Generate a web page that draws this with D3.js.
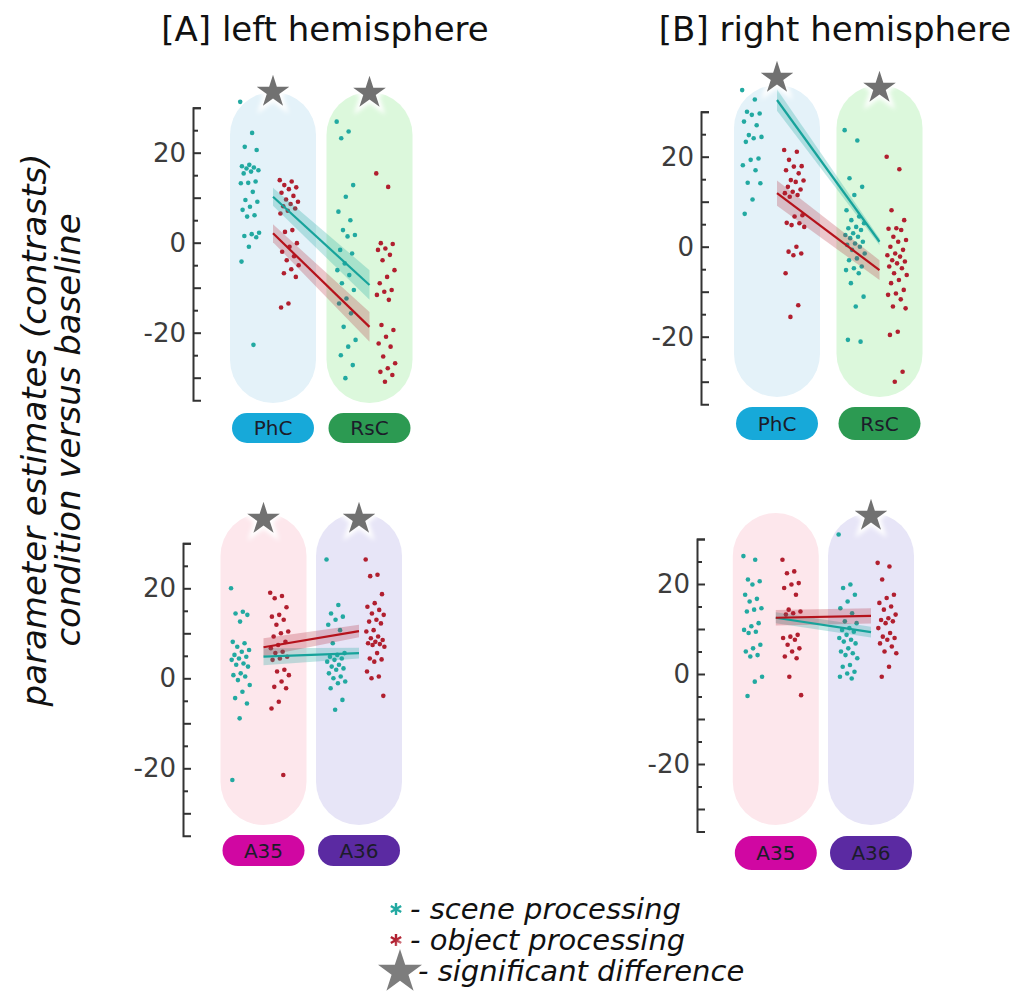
<!DOCTYPE html>
<html>
<head>
<meta charset="utf-8">
<script src="https://cdn.jsdelivr.net/npm/d3@7"></script>
<style>
  body { margin: 0; background: #fff; }
  text { font-family: "DejaVu Sans", Verdana, sans-serif; }
</style>
</head>
<body>
<div id="container"></div>
<script>
// regions per row
const topRegions = ["PhC", "RsC"]
const bottomRegions = ["A35", "A36"]

// [A] left hemisphere, top row
const leftPhCScene = [31.3, 24.4, 21.3, 20.6, 17.3, 17.0, 16.7, 16.5, 16.1, 15.8, 15.4, 13.6, 13.3, 13.2, 11.3, 9.5, 9.1, 8.0, 7.3, 6.1, 5.8, 2.2, 1.9, 1.5, 1.2, -0.9, -4.2, -22.7]
const leftPhCObject = [13.9, 13.6, 12.8, 12.3, 11.9, 11.1, 10.4, 9.6, 9.1, 8.6, 8.1, 7.6, 7.1, 6.5, 2.8, 2.4, -0.1, -0.9, -2.0, -3.0, -3.9, -5.0, -5.9, -6.8, -7.6, -13.5, -14.4]
const leftRsCScene = [26.9, 24.7, 23.2, 12.8, 10.2, 6.9, 5.0, 2.8, 1.7, 1.4, -1.6, -2.4, -4.6, -6.1, -7.2, -9.0, -10.5, -12.4, -13.5, -15.7, -18.7, -21.6, -23.1, -25.0, -27.2, -30.1]
const leftRsCObject = [15.4, 12.4, -0.1, -0.3, -1.3, -1.6, -2.7, -3.9, -6.1, -7.6, -9.0, -10.5, -10.9, -11.6, -12.7, -18.3, -19.4, -20.9, -22.4, -23.1, -25.3, -26.8, -27.9, -28.7, -29.4, -30.9]

// [B] right hemisphere, top row
const rightPhCScene = [34.8, 32.7, 30.0, 29.6, 29.3, 27.8, 27.0, 24.8, 24.4, 24.1, 23.3, 19.6, 19.3, 18.1, 17.0, 14.2, 14.1, 10.5, 7.3]
const rightPhCObject = [21.5, 21.1, 19.3, 17.9, 17.8, 17.0, 16.3, 14.8, 14.7, 14.4, 13.3, 12.7, 12.2, 11.9, 11.5, 11.1, 7.0, 6.7, 5.3, 5.2, 4.8, 4.4, 0.0, -1.1, -1.5, -1.9, -5.9, -13.0, -15.6]
const rightRsCScene = [25.9, 23.6, 15.2, 13.3, 11.5, 8.1, 6.7, 5.9, 5.2, 4.4, 4.1, 3.7, 3.0, 2.6, 2.2, 1.9, 1.1, 0.7, 0.4, 0.0, -0.7, -1.5, -2.6, -3.0, -4.4, -4.8, -5.2, -5.9, -8.1, -11.1, -13.3, -20.7, -21.1]
const rightRsCObject = [20.0, 17.2, 8.1, 5.9, 4.1, 4.0, 3.7, 2.2, 1.5, 1.1, 0.0, -0.7, -1.5, -1.9, -2.2, -3.0, -3.3, -3.7, -4.4, -4.8, -5.9, -6.3, -7.4, -8.1, -9.6, -10.4, -10.7, -11.7, -13.3, -13.7, -18.9, -19.6, -27.8, -30.0]

// [A] left hemisphere, bottom row
const leftA35Scene = [20.0, 14.8, 14.4, 14.1, 12.6, 8.1, 7.8, 7.0, 6.3, 5.9, 5.2, 4.8, 4.4, 4.1, 3.3, 3.0, 2.6, 1.1, 0.7, 0.4, -0.4, -1.5, -3.0, -4.4, -5.6, -8.9, -22.6]
const leftA35Object = [19.0, 18.3, 17.8, 15.8, 14.1, 13.7, 13.0, 11.9, 10.4, 10.0, 9.3, 8.1, 7.4, 6.7, 5.9, 5.6, 4.8, 4.4, 4.1, 1.9, 1.5, 0.7, -0.7, -1.9, -2.2, -5.2, -6.7, -21.5]
const leftA36Scene = [26.4, 16.3, 14.4, 13.7, 13.0, 11.9, 10.7, 7.8, 5.6, 5.2, 4.8, 4.4, 4.1, 3.7, 3.0, 2.6, 2.2, 1.9, 1.1, 0.4, 0.0, -0.7, -1.1, -2.2, -4.8, -7.0]
const leftA36Object = [26.4, 23.0, 22.7, 18.7, 16.7, 15.9, 15.2, 14.4, 14.1, 13.0, 12.6, 12.2, 10.7, 10.4, 9.3, 8.9, 8.5, 8.1, 7.8, 7.6, 7.4, 7.0, 5.6, 4.4, 4.2, 3.7, 1.5, 0.4, 0.0, -3.9]

// [B] right hemisphere, bottom row
const rightA35Scene = [26.2, 25.4, 21.0, 20.6, 19.9, 17.6, 16.7, 16.1, 14.6, 14.3, 13.9, 11.3, 10.6, 9.8, 9.4, 9.1, 6.5, 5.7, 5.0, 4.2, 3.9, -0.6, -1.7, -4.9]
const rightA35Object = [25.4, 22.8, 22.4, 20.2, 19.9, 19.1, 17.6, 14.3, 13.9, 13.5, 13.2, 8.7, 8.3, 8.0, 7.6, 6.5, 5.7, 5.0, 3.9, 3.5, -0.6, -4.7]
const rightA36Scene = [31.0, 19.9, 19.1, 17.6, 16.1, 14.6, 13.5, 11.7, 11.3, 10.2, 9.8, 9.4, 8.7, 8.0, 7.6, 7.2, 6.8, 5.7, 5.0, 4.6, 4.2, 3.5, 2.0, 1.6, 0.5, 0.1, -0.6, -1.0]
const rightA36Object = [24.7, 23.9, 21.0, 17.6, 16.9, 15.8, 15.0, 14.3, 13.2, 12.4, 12.0, 11.7, 11.3, 10.2, 9.1, 8.3, 8.0, 7.6, 6.8, 6.1, 5.0, 4.6, 1.6, -0.6]

// regression fits: value at first region, value at second region; ci half width at each end
const leftTopSceneFit = [10.2, -9.4], leftTopSceneCI = [2.0, 3.3]
const leftTopObjectFit = [2.1, -18.7], leftTopObjectCI = [2.0, 3.3]
const rightTopSceneFit = [32.6, 1.1], rightTopSceneCI = [2.4, 0.8]
const rightTopObjectFit = [11.9, -5.2], rightTopObjectCI = [2.8, 2.2]
const leftBottomSceneFit = [4.8, 5.6], leftBottomSceneCI = [1.9, 1.2]
const leftBottomObjectFit = [6.9, 10.5], leftBottomObjectCI = [2.0, 1.4]
const rightBottomSceneFit = [12.5, 9.3], rightBottomSceneCI = [1.2, 1.2]
const rightBottomObjectFit = [12.5, 12.9], rightBottomObjectCI = [1.7, 1.7]

// significance stars per region
const leftTopStars = [true, true]
const rightTopStars = [true, true]
const leftBottomStars = [true, true]
const rightBottomStars = [false, true]

const w = 1026
const h = 994

const sceneColor = "#22a9a1"
const objectColor = "#b11f2f"
const regionBg = { PhC: "#e4f2f9", RsC: "#dcf8dc", A35: "#fde7ec", A36: "#e7e5f7" }
const regionPill = { PhC: "#17a9d9", RsC: "#2c9a52", A35: "#d007a2", A36: "#5b2aa2" }

const svg = d3.select("#container")
  .append("svg")
  .attr("width", w)
  .attr("height", h)

const defs = svg.append("defs")
const glow = defs.append("filter").attr("id", "glow")
  .attr("x", "-50%").attr("y", "-50%").attr("width", "200%").attr("height", "200%")
glow.append("feGaussianBlur").attr("stdDeviation", 2)

const panels = [
  {
    regions: topRegions, c0: 273, c1: 369.5, rectTop: 92, rectBot: 403, zeroY: 242.7, axisX: 193,
    labelTop: 413, labelH: 30, starY: [92, 93], stars: leftTopStars,
    points: [[leftPhCScene, leftPhCObject], [leftRsCScene, leftRsCObject]],
    fits: [[leftTopSceneFit, leftTopSceneCI, sceneColor], [leftTopObjectFit, leftTopObjectCI, objectColor]]
  },
  {
    regions: topRegions, c0: 777, c1: 879.5, rectTop: 85, rectBot: 397, zeroY: 246.7, axisX: 701,
    labelTop: 407, labelH: 33, starY: [78, 88], stars: rightTopStars,
    points: [[rightPhCScene, rightPhCObject], [rightRsCScene, rightRsCObject]],
    fits: [[rightTopSceneFit, rightTopSceneCI, sceneColor], [rightTopObjectFit, rightTopObjectCI, objectColor]]
  },
  {
    regions: bottomRegions, c0: 263.5, c1: 359, rectTop: 513, rectBot: 825, zeroY: 678.3, axisX: 183,
    labelTop: 835, labelH: 31, starY: [519, 519], stars: leftBottomStars,
    points: [[leftA35Scene, leftA35Object], [leftA36Scene, leftA36Object]],
    fits: [[leftBottomSceneFit, leftBottomSceneCI, sceneColor], [leftBottomObjectFit, leftBottomObjectCI, objectColor]]
  },
  {
    regions: bottomRegions, c0: 775.8, c1: 871, rectTop: 513, rectBot: 825, zeroY: 674, axisX: 697,
    labelTop: 836, labelH: 34, starY: [516, 516], stars: rightBottomStars,
    points: [[rightA35Scene, rightA35Object], [rightA36Scene, rightA36Object]],
    fits: [[rightBottomSceneFit, rightBottomSceneCI, sceneColor], [rightBottomObjectFit, rightBottomObjectCI, objectColor]]
  }
]

const drawStar = (g, x, y, size, fill) => {
  const star = d3.symbol().type(d3.symbolStar).size(size)
  g.append("path").attr("d", star())
    .attr("transform", `translate(${x},${y})`)
    .attr("fill", "#fff").attr("stroke", "#fff").attr("stroke-width", 6)
    .attr("filter", "url(#glow)")
  g.append("path").attr("d", star())
    .attr("transform", `translate(${x},${y})`)
    .attr("fill", fill || "#717171")
}

const makePanel = (p) => {
  const g = svg.append("g")
  const x = d3.scaleLinear().domain([0, 1]).range([p.c0, p.c1])
  const unit = p.c1 - p.c0
  // 4.5 px per unit, 0 at zeroY
  const y = d3.scaleLinear().domain([-35, 30]).range([p.zeroY + 35 * 4.5, p.zeroY - 30 * 4.5])
  const rectW = 86

  // region backgrounds
  g.selectAll("rect.bg")
    .data(p.regions)
    .enter()
    .append("rect")
    .attr("class", "bg")
    .attr("x", (d, i) => x(i) - rectW / 2)
    .attr("y", p.rectTop)
    .attr("width", rectW)
    .attr("height", p.rectBot - p.rectTop)
    .attr("rx", rectW / 2)
    .attr("fill", (d) => regionBg[d])

  // region labels
  const pills = g.selectAll("g.pill")
    .data(p.regions)
    .enter()
    .append("g")
    .attr("class", "pill")
  pills.append("rect")
    .attr("x", (d, i) => x(i) - 41)
    .attr("y", p.labelTop)
    .attr("width", 82)
    .attr("height", p.labelH)
    .attr("rx", p.labelH / 2)
    .attr("fill", (d) => regionPill[d])
  pills.append("text")
    .attr("x", (d, i) => x(i))
    .attr("y", p.labelTop + p.labelH / 2 + 7)
    .attr("text-anchor", "middle")
    .attr("font-size", 20)
    .attr("fill", "#1c1c2a")
    .text((d) => d)

  // axis
  const axis = d3.axisLeft(y)
    .tickValues(d3.range(-30, 31, 5))
    .tickSizeInner(-8)
    .tickSizeOuter(-8)
    .tickPadding(7)
    .tickFormat((d) => d % 20 === 0 ? String(d) : "")
  const ax = g.append("g")
    .attr("transform", `translate(${p.axisX},0)`)
    .call(axis)
  ax.select(".domain").attr("stroke", "#333").attr("stroke-width", 2)
  ax.selectAll(".tick line")
    .attr("stroke", "#333").attr("stroke-width", 2)
    .attr("x2", (d) => d % 10 === 0 ? 8 : 5)
  ax.selectAll(".tick text")
    .attr("font-size", 26)
    .attr("fill", "#3c3c3c")
    .attr("font-family", "DejaVu Sans, sans-serif")

  // points
  p.points.forEach((pair, ri) => {
    pair.forEach((vals, si) => {
      const off = si === 0 ? -0.24 : 0.17
      g.selectAll(null)
        .data(vals)
        .enter()
        .append("circle")
        .attr("cx", (d, i) => x(ri + off) + (((i * 0.618034) % 1) - 0.5) * 0.2 * unit)
        .attr("cy", (d) => y(d))
        .attr("r", 2.3)
        .attr("fill", si === 0 ? sceneColor : objectColor)
    })
  })

  // fits with ci bands
  p.fits.forEach(([fit, ci, color]) => {
    const band = d3.area()
      .x((d, i) => x(i))
      .y0((d, i) => y(d - ci[i]))
      .y1((d, i) => y(d + ci[i]))
    g.append("path")
      .attr("d", band(fit))
      .attr("fill", color)
      .attr("opacity", color === sceneColor ? 0.28 : 0.25)
  })
  p.fits.forEach(([fit, ci, color]) => {
    const line = d3.line()
      .x((d, i) => x(i))
      .y((d) => y(d))
    g.append("path")
      .attr("d", line(fit))
      .attr("fill", "none")
      .attr("stroke", color === sceneColor ? "#17a39b" : "#b5121b")
      .attr("stroke-width", 2.2)
  })

  // stars
  p.stars.forEach((s, i) => {
    if (s) drawStar(g, x(i), p.starY[i], 330)
  })
}

panels.forEach(makePanel)

// titles
svg.append("text")
  .attr("x", 325).attr("y", 41)
  .attr("text-anchor", "middle")
  .attr("font-size", 34)
  .attr("fill", "#111")
  .text("[A] left hemisphere")
svg.append("text")
  .attr("x", 835).attr("y", 41)
  .attr("text-anchor", "middle")
  .attr("font-size", 34)
  .attr("fill", "#111")
  .text("[B] right hemisphere")

// y label
const yLabel = ["parameter estimates (contrasts)", "condition versus baseline"]
svg.selectAll("text.ylab")
  .data(yLabel)
  .enter()
  .append("text")
  .attr("class", "ylab")
  .attr("transform", (d, i) => `translate(${46 + i * 34},430) rotate(-90)`)
  .attr("text-anchor", "middle")
  .attr("font-size", 34)
  .attr("font-style", "italic")
  .attr("font-family", "Open Sans, sans-serif")
  .attr("fill", "#111")
  .text((d) => d)

// legend
const legendItems = ["- scene processing", "- object processing", "- significant difference"]
const legend = svg.append("g")
const asterisk = d3.symbol().type(d3.symbolAsterisk).size(100)
legend.append("path").attr("d", asterisk())
  .attr("transform", "translate(396,909)")
  .attr("fill", "none").attr("stroke", sceneColor).attr("stroke-width", 2.4)
legend.append("path").attr("d", asterisk())
  .attr("transform", "translate(396,940)")
  .attr("fill", "none").attr("stroke", objectColor).attr("stroke-width", 2.4)
drawStar(legend, 400, 972, 600, "#7d7d7d")
legend.selectAll("text")
  .data(legendItems)
  .enter()
  .append("text")
  .attr("x", (d, i) => i === 2 ? 418 : 410)
  .attr("y", (d, i) => 919 + i * 31)
  .attr("font-size", 29)
  .attr("font-style", "italic")
  .attr("fill", "#111")
  .text((d) => d)
</script>
</body>
</html>
